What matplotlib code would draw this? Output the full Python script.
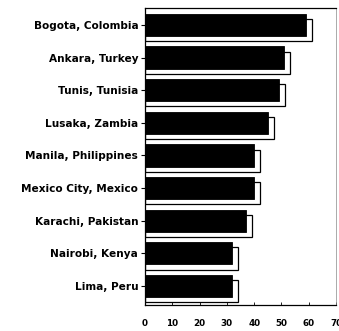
import numpy as np
import matplotlib.pyplot as plt

cities = ['Bogota, Colombia', 'Ankara, Turkey', 'Tunis, Tunisia',
          'Lusaka, Zambia', 'Manila, Philippines', 'Mexico City, Mexico',
          'Karachi, Pakistan', 'Nairobi, Kenya', 'Lima, Peru']
values = [59, 51, 49, 45, 40, 40, 37, 32, 32]
xticks = [0, 10, 20, 30, 40, 50, 60, 70]


def draw(cities, values):
    fig = plt.figure(figsize=(3.39, 3.31), dpi=100)
    ax = fig.add_axes([0.428, 0.079, 0.563, 0.897])

    y = np.arange(len(cities))[::-1]
    h = 0.68
    dx, dy = 2.2, 0.16

    # white back face gives the bars their depth
    ax.barh(y - dy, np.array(values) + dx, height=h, left=0,
            color='white', edgecolor='black', linewidth=0.9, zorder=2)
    ax.barh(y, values, height=h, color='black', edgecolor='black',
            linewidth=0.6, zorder=3)

    ax.set_xlim(0, 70)
    ax.set_ylim(-0.58, len(cities) - 0.48)
    ax.set_yticks(y)
    ax.set_yticklabels(cities, fontsize=7.6, fontweight='bold',
                       family='DejaVu Sans')
    ax.set_xticks(xticks)
    ax.set_xticklabels([str(t) for t in xticks], fontsize=6.3,
                       fontweight='bold', family='DejaVu Sans')
    ax.tick_params(axis='y', length=3, width=0.8, pad=2)
    ax.tick_params(axis='x', direction='in', length=2.5, width=0.6, pad=10)

    for s in ['left', 'bottom', 'top']:
        ax.spines[s].set_linewidth(0.9)
    ax.spines['right'].set_linewidth(0.5)
    ax.spines['right'].set_color('#888888')

    fig.savefig('out.png', dpi=100)


draw(cities, values)
